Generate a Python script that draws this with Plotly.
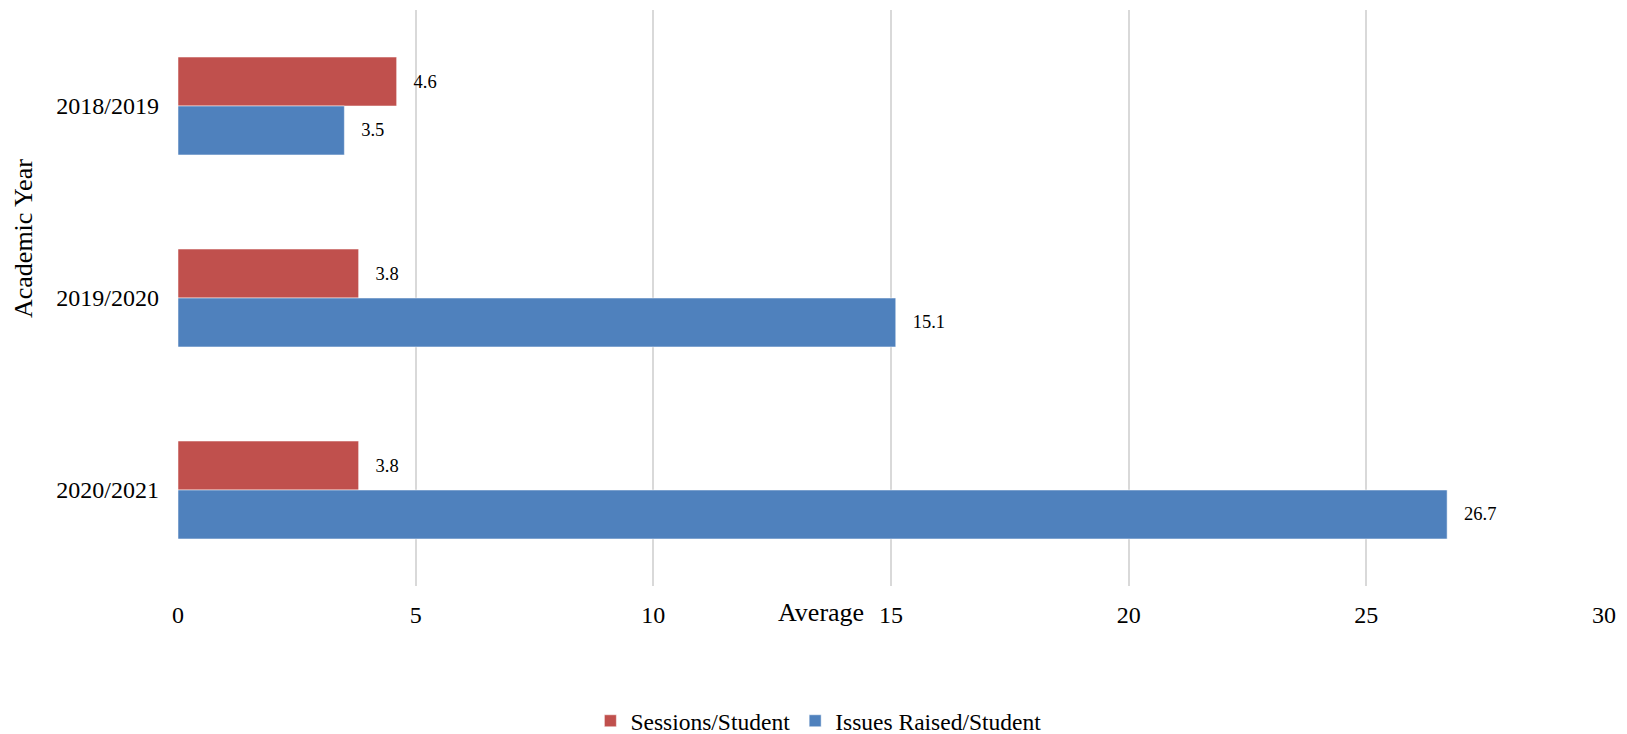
import plotly.graph_objects as go

# Academic years shown on the category axis (top to bottom)
years = ["2018/2019", "2019/2020", "2020/2021"]

# Average values per student
sessions_per_student = [4.6, 3.8, 3.8]
issues_per_student = [3.5, 15.1, 26.7]

x_ticks = [0, 5, 10, 15, 20, 25, 30]

SERIF = "Liberation Serif, Times New Roman, serif"
RED = "#C0504D"
BLUE = "#4F81BD"
PAD = "\u00a0\u00a0\u00a0"  # gap between bar end and its value label

fig = go.Figure()

fig.add_trace(go.Bar(
    name="Sessions/Student",
    y=years,
    x=sessions_per_student,
    orientation="h",
    marker=dict(color=RED, line=dict(color="rgba(255,255,255,0.5)", width=1)),
    text=[f"{PAD}{v:.1f}" for v in sessions_per_student],
    textposition="outside",
    textfont=dict(family=SERIF, size=18.5, color="#000000"),
    cliponaxis=False,
))

fig.add_trace(go.Bar(
    name="Issues Raised/Student",
    y=years,
    x=issues_per_student,
    orientation="h",
    marker=dict(color=BLUE, line=dict(color="rgba(255,255,255,0.5)", width=1)),
    text=[f"{PAD}{v:.1f}" for v in issues_per_student],
    textposition="outside",
    textfont=dict(family=SERIF, size=18.5, color="#000000"),
    cliponaxis=False,
))

fig.update_layout(
    width=1627,
    height=734,
    margin=dict(l=178, r=23, t=10, b=148),
    paper_bgcolor="white",
    plot_bgcolor="white",
    font=dict(family=SERIF, color="#000000"),
    barmode="group",
    bargap=0.49,
    bargroupgap=0,
    xaxis=dict(
        range=[0, 30],
        tickvals=x_ticks,
        ticktext=[str(t) for t in x_ticks],
        showgrid=True,
        gridcolor="#D9D9D9",
        gridwidth=2,
        zeroline=False,
        showline=False,
        ticks="",
        ticklabelstandoff=12,
        tickfont=dict(family=SERIF, size=24, color="#000000"),
    ),
    yaxis=dict(
        categoryorder="array",
        categoryarray=years,
        autorange="reversed",
        showgrid=False,
        zeroline=False,
        showline=False,
        ticks="",
        ticklabelstandoff=18,
        tickfont=dict(family=SERIF, size=24, color="#000000"),
    ),
    legend=dict(
        orientation="h",
        xref="container",
        yref="container",
        x=0.503,
        xanchor="center",
        y=1 - 721 / 734,
        yanchor="middle",
        font=dict(family=SERIF, size=23.5, color="#000000"),
        traceorder="normal",
    ),
    annotations=[
        dict(
            text="Average",
            xref="paper", yref="paper",
            x=(821 - 178) / (1627 - 178 - 23),
            y=-(612 - 586) / (734 - 10 - 148),
            xanchor="center", yanchor="middle",
            showarrow=False,
            font=dict(family=SERIF, size=26, color="#000000"),
        ),
        dict(
            text="Academic Year",
            xref="paper", yref="paper",
            x=-(178 - 23) / (1627 - 178 - 23),
            y=(586 - 239) / (734 - 10 - 148),
            xanchor="center", yanchor="middle",
            textangle=-90,
            showarrow=False,
            font=dict(family=SERIF, size=26, color="#000000"),
        ),
    ],
)

fig.write_html("out.html")
